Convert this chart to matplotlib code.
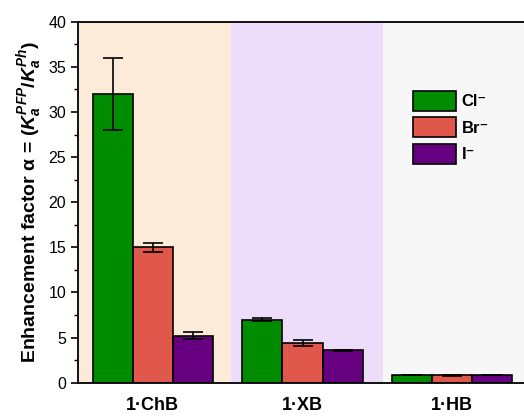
import numpy as np
import matplotlib
matplotlib.use("Agg")
import matplotlib.pyplot as plt

plt.rcParams["font.family"] = ["Liberation Sans", "DejaVu Sans"]
plt.rcParams["mathtext.fontset"] = "custom"
plt.rcParams["mathtext.rm"] = "Liberation Sans:bold"
plt.rcParams["mathtext.it"] = "Liberation Sans:italic:bold"
plt.rcParams["mathtext.bf"] = "Liberation Sans:bold"

# Enhancement factors per receptor and anion
receptors = ["1·ChB", "1·XB", "1·HB"]
anions = ["Cl⁻", "Br⁻", "I⁻"]
alpha = {
    "Cl": [32.0, 7.0, 0.85],
    "Br": [15.0, 4.4, 0.80],
    "I": [5.2, 3.6, 0.85],
}
alpha_err = {
    "Cl": [4.0, 0.15, 0.05],
    "Br": [0.5, 0.3, 0.04],
    "I": [0.4, 0.05, 0.05],
}
bar_colors = ["#008C00", "#E0574B", "#660080"]
band_colors = ["#FDEBD9", "#EEDCFB", "#F7F7F7"]
band_edges = [-0.5, 0.52, 1.535, 2.6]

fig = plt.figure(figsize=(5.24, 4.16), dpi=100)
ax = fig.add_axes([78 / 524, 1 - 382.7 / 416, 449 / 524, 361 / 416])

for i, c in enumerate(band_colors):
    ax.axvspan(band_edges[i], band_edges[i + 1], color=c, lw=0, zorder=0)

x = np.arange(len(receptors))
width = 0.268
for k, (key, lab, col) in enumerate(zip(alpha, anions, bar_colors)):
    ax.bar(x + (k - 1) * width, alpha[key], width, yerr=alpha_err[key],
           color=col, edgecolor="black", linewidth=1.2, label=lab,
           capsize=7, error_kw=dict(elinewidth=1.2, capthick=1.2, ecolor="black"),
           zorder=2)

ax.set_xlim(-0.5, 2.5)
ax.set_ylim(0, 40)
ax.set_yticks(np.arange(0, 41, 5))
ax.set_yticks(np.arange(0, 40, 2.5), minor=True)
ax.set_xticks(x)
ax.set_xticklabels(receptors, fontsize=13, fontweight="bold")
ax.tick_params(axis="x", length=0, pad=10)
ax.tick_params(axis="y", which="major", length=5, width=1.2, labelsize=11.5, direction="out")
ax.tick_params(axis="y", which="minor", length=3, width=1.0, direction="out")
for s in ax.spines.values():
    s.set_linewidth(1.3)

ax.set_ylabel(r"Enhancement factor α = ($K_a^{PFP}/K_a^{Ph}$)",
              fontsize=14, fontweight="bold", labelpad=3)

ax.legend(loc="upper left", bbox_to_anchor=(0.713, 0.85), frameon=False,
          prop={"weight": "bold", "size": 12}, handlelength=2.6,
          handleheight=1.45, labelspacing=0.4, handletextpad=0.3)

fig.savefig("out.png", dpi=100)
